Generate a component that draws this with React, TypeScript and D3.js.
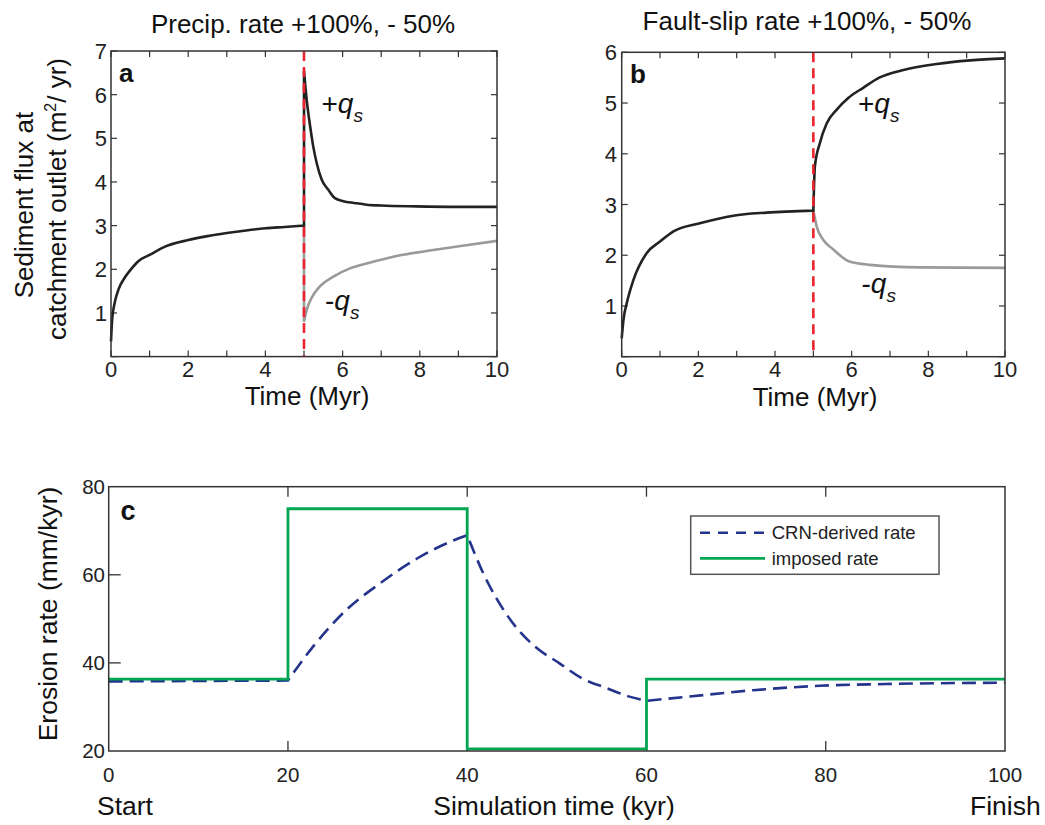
import React from 'react';
import * as d3 from 'd3';

// ---------- Data ----------
// Panel a: precipitation rate change
const aBlackTime = [0, 0.03, 0.1, 0.2, 0.35, 0.5, 0.7, 1.0, 1.4, 2.0, 2.5, 3.0, 3.5, 4.0, 4.5, 5.0, 5.0, 5.07, 5.16, 5.24, 5.33, 5.46, 5.63, 5.8, 6.02, 6.3, 6.62, 7.0, 7.9, 9.0, 10];
const aBlackFlux = [0.35, 0.85, 1.25, 1.55, 1.8, 1.98, 2.18, 2.33, 2.52, 2.67, 2.76, 2.83, 2.89, 2.94, 2.97, 3.0, 6.55, 5.88, 5.27, 4.81, 4.43, 4.05, 3.82, 3.63, 3.56, 3.52, 3.48, 3.46, 3.44, 3.43, 3.43];
const aGrayTime = [5.0, 5.0, 5.07, 5.2, 5.41, 5.76, 6.19, 6.62, 7.49, 8.35, 9.2, 10];
const aGrayFlux = [3.0, 0.8, 1.07, 1.35, 1.61, 1.83, 2.02, 2.13, 2.32, 2.44, 2.55, 2.65];

// Panel b: fault-slip rate change
const bBlackTime = [0, 0.05, 0.13, 0.3, 0.65, 1.0, 1.35, 2.04, 2.91, 3.78, 5.0, 5.04, 5.17, 5.35, 5.61, 5.91, 6.3, 6.72, 7.35, 8.22, 9.09, 10];
const bBlackFlux = [0.36, 0.75, 1.05, 1.5, 2.04, 2.27, 2.47, 2.63, 2.78, 2.84, 2.88, 3.75, 4.21, 4.6, 4.87, 5.1, 5.3, 5.5, 5.65, 5.77, 5.84, 5.88];
const bGrayTime = [5.0, 5.09, 5.26, 5.48, 5.96, 6.48, 7.78, 10];
const bGrayFlux = [2.88, 2.56, 2.3, 2.14, 1.87, 1.81, 1.76, 1.75];

// Panel c: erosion rates
const cImposedTime = [0, 20, 40, 60, 100];
const cImposedRate = [36.3, 75, 20.5, 36.3, 36.3];
const cCrnTime = [0, 20, 22.8, 26.5, 30.3, 34.4, 38.1, 40, 41.8, 43.6, 45.7, 47.5, 50.3, 52.8, 55.4, 58, 60, 64.5, 71.9, 79.3, 86.7, 100];
const cCrnRate = [35.8, 36, 43.7, 52.0, 58.1, 63.7, 67.5, 69.0, 60.3, 53.5, 47.5, 43.8, 39.9, 36.5, 34.4, 32.4, 31.4, 32.3, 33.8, 34.8, 35.2, 35.5];
const cKinks = [20, 40, 60];

const abXTicks = [0, 2, 4, 6, 8, 10];
const aYTicks = [1, 2, 3, 4, 5, 6, 7];
const bYTicks = [1, 2, 3, 4, 5, 6];
const cXTicks = [0, 20, 40, 60, 80, 100];
const cYTicks = [20, 40, 60, 80];

const FONT = '"Liberation Sans", Arial, Helvetica, sans-serif';
const RED = '#e8262d';
const BLACK = '#222222';
const GRAY = '#9a9a9a';
const GREEN = '#00a651';
const BLUE = '#24348c';
const AXIS = '#333333';

type Sc = d3.ScaleLinear<number, number>;

function piecewisePath(xs: number[], ys: number[], kinks: number[], sx: Sc, sy: Sc): string {
  const groups: [number, number][][] = [];
  let cur: [number, number][] = [];
  xs.forEach((x, i) => {
    const p: [number, number] = [x, ys[i]];
    if (cur.length && x === cur[cur.length - 1][0]) {
      groups.push(cur);
      cur = [p];
      return;
    }
    cur.push(p);
    if (kinks.includes(x) && i > 0 && i < xs.length - 1) {
      groups.push(cur);
      cur = [p];
    }
  });
  if (cur.length) groups.push(cur);
  const line = d3
    .line<[number, number]>()
    .x((d) => sx(d[0]))
    .y((d) => sy(d[1]))
    .curve(d3.curveMonotoneX);
  return groups
    .map((g, i) => {
      const d = g.length > 1 ? (line(g) as string) : `M${sx(g[0][0])},${sy(g[0][1])}`;
      return i === 0 ? d : d.replace(/^M/, 'L');
    })
    .join('');
}

function QLabel({ x, y, sign }: { x: number; y: number; sign: string }) {
  return (
    <text x={x} y={y} fontFamily={FONT} fontSize={28} fill="#111">
      {sign}
      <tspan fontStyle="italic">q</tspan>
      <tspan fontStyle="italic" fontSize={19} dy={9}>
        s
      </tspan>
    </text>
  );
}

function FluxPanel(props: {
  x0: number; x1: number; yTop: number; yBot: number; yMax: number; yTicks: number[];
  blackT: number[]; blackV: number[]; grayT: number[]; grayV: number[];
  letter: string; letterX: number; letterY: number;
  title: string; titleX: number; titleY: number;
  xlabX: number; xlabY: number; tickRight: number;
  plusX: number; plusY: number; minusX: number; minusY: number;
}) {
  const sx = d3.scaleLinear().domain([0, 10]).range([props.x0, props.x1]);
  const sy = d3.scaleLinear().domain([0, props.yMax]).range([props.yBot, props.yTop]);
  const minorX = sx.ticks(10);
  const minorY = d3.range(0, props.yMax + 1);
  const tl = 6;
  return (
    <g>
      <text x={props.titleX} y={props.titleY} textAnchor="middle" fontFamily={FONT} fontSize={26} fill="#111">
        {props.title}
      </text>
      {minorX.map((t) => (
        <g key={'x' + t}>
          <line x1={sx(t)} x2={sx(t)} y1={props.yBot} y2={props.yBot - tl} stroke={AXIS} strokeWidth={1.2} />
          <line x1={sx(t)} x2={sx(t)} y1={props.yTop} y2={props.yTop + tl} stroke={AXIS} strokeWidth={1.2} />
        </g>
      ))}
      {minorY.map((t) => (
        <g key={'y' + t}>
          <line x1={props.x0} x2={props.x0 + tl} y1={sy(t)} y2={sy(t)} stroke={AXIS} strokeWidth={1.2} />
          <line x1={props.x1} x2={props.x1 - tl} y1={sy(t)} y2={sy(t)} stroke={AXIS} strokeWidth={1.2} />
        </g>
      ))}
      {abXTicks.map((t) => (
        <text key={'xl' + t} x={sx(t)} y={props.yBot + 20} textAnchor="middle" fontFamily={FONT} fontSize={22} fill="#222">
          {t}
        </text>
      ))}
      {props.yTicks.map((t) => (
        <text key={'yl' + t} x={props.tickRight} y={sy(t) + 8} textAnchor="end" fontFamily={FONT} fontSize={22} fill="#222">
          {t}
        </text>
      ))}
      <path d={piecewisePath(props.grayT, props.grayV, [], sx, sy)} fill="none" stroke={GRAY} strokeWidth={2.6} />
      <path d={piecewisePath(props.blackT, props.blackV, [5], sx, sy)} fill="none" stroke={BLACK} strokeWidth={2.6} />
      <line x1={sx(5)} x2={sx(5)} y1={props.yTop} y2={props.yBot} stroke={RED} strokeWidth={2.6} strokeDasharray="10,6" />
      <rect x={props.x0} y={props.yTop} width={props.x1 - props.x0} height={props.yBot - props.yTop} fill="none" stroke={AXIS} strokeWidth={1.5} />
      <text x={props.letterX} y={props.letterY} fontFamily={FONT} fontWeight="bold" fontSize={26} fill="#111">
        {props.letter}
      </text>
      <QLabel x={props.plusX} y={props.plusY} sign="+" />
      <QLabel x={props.minusX} y={props.minusY} sign="-" />
      <text x={props.xlabX} y={props.xlabY} textAnchor="middle" fontFamily={FONT} fontSize={26} fill="#111">
        Time (Myr)
      </text>
    </g>
  );
}

function ErosionPanel() {
  const x0 = 108.7, x1 = 1005, yTop = 486.7, yBot = 751;
  const sx = d3.scaleLinear().domain([0, 100]).range([x0, x1]);
  const sy = d3.scaleLinear().domain([20, 80]).range([yBot, yTop]);
  const imposedPts = cImposedTime.map((t, i) => [t, cImposedRate[i]] as [number, number]);
  const step = d3
    .line<[number, number]>()
    .x((d) => sx(d[0]))
    .y((d) => sy(d[1]))
    .curve(d3.curveStepAfter);
  const crn = piecewisePath(cCrnTime, cCrnRate, cKinks, sx, sy);
  return (
    <g>
      {[20, 40, 60, 80].map((t) => (
        <g key={'cx' + t}>
          <line x1={sx(t)} x2={sx(t)} y1={yTop} y2={yTop + 10} stroke={AXIS} strokeWidth={1.3} />
          <line x1={sx(t)} x2={sx(t)} y1={yBot} y2={yBot - 10} stroke={AXIS} strokeWidth={1.3} />
        </g>
      ))}
      {[40, 60].map((t) => (
        <line key={'cy' + t} x1={x0} x2={x0 + 12} y1={sy(t)} y2={sy(t)} stroke={AXIS} strokeWidth={1.3} />
      ))}
      {cXTicks.map((t) => (
        <text key={'cxl' + t} x={sx(t)} y={782} textAnchor="middle" fontFamily={FONT} fontSize={20.5} fill="#222">
          {t}
        </text>
      ))}
      {cYTicks.map((t) => (
        <text key={'cyl' + t} x={105} y={sy(t) + 7} textAnchor="end" fontFamily={FONT} fontSize={20.5} fill="#222">
          {t}
        </text>
      ))}
      <path d={crn} fill="none" stroke={BLUE} strokeWidth={2.6} strokeDasharray="14,7" />
      <path d={step(imposedPts) as string} fill="none" stroke={GREEN} strokeWidth={2.8} />
      <rect x={x0} y={yTop} width={x1 - x0} height={yBot - yTop} fill="none" stroke={AXIS} strokeWidth={1.5} />
      <text x={120.5} y={520} fontFamily={FONT} fontWeight="bold" fontSize={27} fill="#111">
        c
      </text>
      <rect x={690.7} y={516} width={248.3} height={58.3} fill="#fff" stroke="#555" strokeWidth={1.5} />
      <line x1={700} x2={765} y1={532.7} y2={532.7} stroke={BLUE} strokeWidth={2.6} strokeDasharray="10,8" />
      <text x={771.7} y={539.3} fontFamily={FONT} fontSize={18.5} fill="#222">
        CRN-derived rate
      </text>
      <line x1={700} x2={765} y1={558.3} y2={558.3} stroke={GREEN} strokeWidth={2.8} />
      <text x={771.7} y={565} fontFamily={FONT} fontSize={18.5} fill="#222">
        imposed rate
      </text>
      <text transform="translate(57,614) rotate(-90)" textAnchor="middle" fontFamily={FONT} fontSize={26.5} fill="#111">
        Erosion rate (mm/kyr)
      </text>
      <text x={554} y={815} textAnchor="middle" fontFamily={FONT} fontSize={26.5} fill="#111">
        Simulation time (kyr)
      </text>
      <text x={97} y={815} fontFamily={FONT} fontSize={26.5} fill="#111">
        Start
      </text>
      <text x={970} y={815} fontFamily={FONT} fontSize={26.5} fill="#111">
        Finish
      </text>
    </g>
  );
}

export default function App() {
  return (
    <svg
      width={1045}
      height={825}
      viewBox="0 0 1045 825"
      style={{ position: 'absolute', left: 0, top: 0, background: '#fff' }}
    >
      <rect x={0} y={0} width={1045} height={825} fill="#fff" />
      <FluxPanel
        x0={111} x1={497} yTop={51} yBot={356.6} yMax={7} yTicks={aYTicks}
        blackT={aBlackTime} blackV={aBlackFlux} grayT={aGrayTime} grayV={aGrayFlux}
        letter="a" letterX={119} letterY={82}
        title="Precip. rate +100%, - 50%" titleX={303} titleY={33}
        xlabX={307} xlabY={405} tickRight={107}
        plusX={321.5} plusY={113} minusX={325} minusY={310}
      />
      <FluxPanel
        x0={621.7} x1={1005} yTop={52.3} yBot={356.7} yMax={6} yTicks={bYTicks}
        blackT={bBlackTime} blackV={bBlackFlux} grayT={bGrayTime} grayV={bGrayFlux}
        letter="b" letterX={630} letterY={83}
        title="Fault-slip rate +100%, - 50%" titleX={807} titleY={30}
        xlabX={815} xlabY={406} tickRight={617}
        plusX={858} plusY={113} minusX={861.5} minusY={293}
      />
      <text transform="translate(33,205) rotate(-90)" textAnchor="middle" fontFamily={FONT} fontSize={26} fill="#111">
        Sediment flux at
      </text>
      <text transform="translate(66,199) rotate(-90)" textAnchor="middle" fontFamily={FONT} fontSize={26} fill="#111">
        catchment outlet (m<tspan fontSize={16} dy={-10}>2</tspan><tspan dy={10}>/ yr)</tspan>
      </text>
      <ErosionPanel />
    </svg>
  );
}
